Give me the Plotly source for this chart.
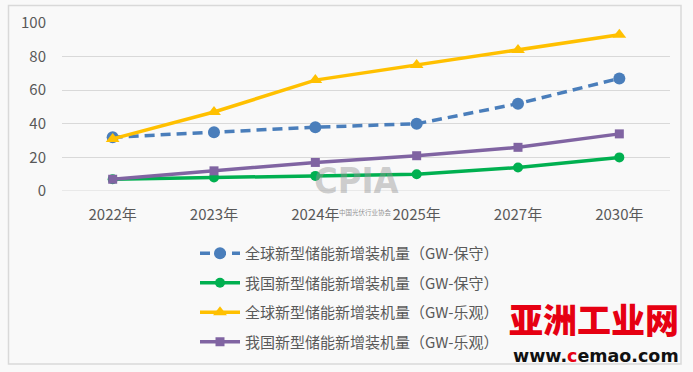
import plotly.graph_objects as go

categories = ["2022年", "2023年", "2024年", "2025年", "2027年", "2030年"]
global_conservative = [32, 35, 38, 40, 52, 67]
china_conservative = [7, 8, 9, 10, 14, 20]
global_optimistic = [31, 47, 66, 75, 84, 93]
china_optimistic = [7, 12, 17, 21, 26, 34]
series_names = [
    "全球新型储能新增装机量（GW-保守）",
    "我国新型储能新增装机量（GW-保守）",
    "全球新型储能新增装机量（GW-乐观）",
    "我国新型储能新增装机量（GW-乐观）",
]
y_ticks = [0, 20, 40, 60, 80, 100]

FONT = "Noto Sans CJK SC, Noto Sans, sans-serif"
TXT = "#595959"
BG = "#f9f9f9"

fig = go.Figure()
fig.add_trace(go.Scatter(
    x=categories, y=global_conservative, name=series_names[0], mode="lines+markers",
    line=dict(color="#4a7ebb", width=3.5, dash="10px,6px"),
    marker=dict(symbol="circle", size=12, color="#4a7ebb"), legendgroup="a"))
fig.add_trace(go.Scatter(
    x=categories, y=china_conservative, name=series_names[1], mode="lines+markers",
    line=dict(color="#00b050", width=3.5),
    marker=dict(symbol="circle", size=10, color="#00b050"), legendgroup="b"))
fig.add_trace(go.Scatter(
    x=categories, y=global_optimistic, name=series_names[2], mode="lines+markers",
    line=dict(color="#ffc000", width=3.5),
    marker=dict(symbol="triangle-up", size=12, color="#ffc000"), legendgroup="c"))
fig.add_trace(go.Scatter(
    x=categories, y=china_optimistic, name=series_names[3], mode="lines+markers",
    line=dict(color="#8064a2", width=3.5),
    marker=dict(symbol="square", size=9, color="#8064a2"), legendgroup="d"))

W, H = 693, 372
L, R, T, B = 62, 670, 23, 191
def px(x): return (x - L) / (R - L)
def py(y): return (B - y) / (B - T)
def cx(x): return x / W
def cy(y): return 1 - y / H

fig.update_layout(
    width=W, height=H,
    margin=dict(l=L, r=W - R, t=T, b=H - B, autoexpand=False),
    paper_bgcolor=BG, plot_bgcolor=BG,
    font=dict(family=FONT, size=15, color=TXT),
    showlegend=True,
    legend=dict(xref="container", yref="container", x=cx(195), y=cy(237),
                xanchor="left", yanchor="top",
                traceorder="grouped", tracegroupgap=7,
                bgcolor="rgba(0,0,0,0)", font=dict(size=15, color=TXT),
                itemwidth=40),
    xaxis=dict(type="category", range=[-0.5, 5.5], showgrid=False, showline=False,
               zeroline=False, ticks="", tickfont=dict(size=15, color=TXT),
               ticklabelstandoff=13, automargin=False),
    yaxis=dict(range=[0, 100], tickvals=y_ticks, showgrid=True, gridcolor="#d9d9d9",
               gridwidth=1, zeroline=False, showline=False, ticks="",
               tickfont=dict(size=15, color=TXT), ticklabelstandoff=15, automargin=False),
    shapes=[
        dict(type="line", xref="paper", yref="y", x0=0, x1=1, y0=0, y1=0,
             line=dict(color="#d9d9d9", width=1), layer="below"),
        dict(type="rect", xref="paper", yref="paper",
             x0=px(8.5), x1=px(681), y0=py(364), y1=py(5.5),
             line=dict(color="#d9d9d9", width=1.5), fillcolor="rgba(0,0,0,0)"),
    ],
    annotations=[
        dict(text="<b>CPIA</b>", xref="paper", yref="paper", x=px(356), y=py(180),
             xanchor="center", yanchor="middle", showarrow=False,
             font=dict(family="Liberation Sans Narrow, DejaVu Sans Condensed, DejaVu Sans",
                       size=36, color="rgba(150,150,150,0.45)")),
        dict(text="中国光伏行业协会", xref="paper", yref="paper", x=px(365), y=py(212),
             xanchor="center", yanchor="middle", showarrow=False,
             font=dict(family=FONT, size=6.5, color="rgba(110,110,110,0.75)")),
        dict(text="亚洲工业网", xref="paper", yref="paper", x=px(681), y=py(318),
             xanchor="right", yanchor="middle", showarrow=False,
             font=dict(family=FONT, size=34, color="#e60012", weight=900)),
        dict(text="<b>www.<span style='color:#e60012'>c</span>emao.com</b>",
             xref="paper", yref="paper", x=px(681), y=py(356),
             xanchor="right", yanchor="middle", showarrow=False,
             font=dict(family="DejaVu Sans", size=17.5, color="#111111")),
    ],
)

fig.write_html("out.html", config={"displayModeBar": False},
               post_script="document.body.style.margin='0';document.body.style.background='#f9f9f9';")
